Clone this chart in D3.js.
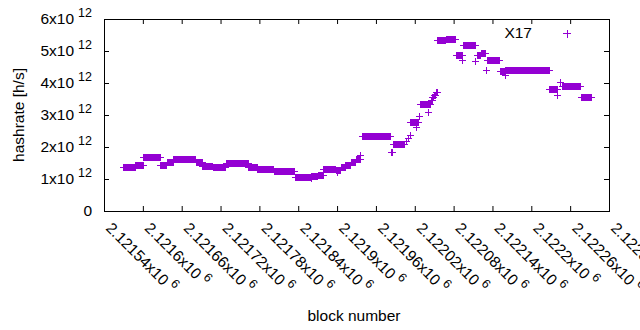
<!DOCTYPE html>
<html>
<head>
<meta charset="utf-8">
<script src="https://cdn.jsdelivr.net/npm/d3@7"></script>
<style>
  body { margin: 0; background: #fff; }
  svg { display: block; font-family: "Liberation Sans", Arial, sans-serif; }
</style>
</head>
<body>
<svg id="chart" width="640" height="330"></svg>
<script>
// X17 hashrate per block, read off as runs of blocks with the same value
// (first block, last block, hashrate in 10^12 h/s)
const runStart = [2121569, 2121588, 2121601, 2121627, 2121637, 2121647, 2121682, 2121692, 2121708, 2121728,
                  2121763, 2121777, 2121802, 2121835, 2121859, 2121859, 2121870, 2121879, 2121898, 2121900,
                  2121906, 2121913, 2121921, 2121929, 2121936, 2121938, 2121984, 2121986, 2122003, 2122006,
                  2122010, 2122012, 2122013, 2122022, 2122027, 2122028, 2122041, 2122045, 2122047, 2122050,
                  2122053, 2122055, 2122068, 2122083, 2122093, 2122095, 2122113, 2122116, 2122122, 2122130,
                  2122132, 2122151, 2122159, 2122159, 2122228, 2122240, 2122244, 2122248, 2122276];
const runEnd   = [2121588, 2121600, 2121626, 2121636, 2121646, 2121681, 2121691, 2121707, 2121727, 2121762,
                  2121776, 2121801, 2121833, 2121858, 2121859, 2121869, 2121878, 2121897, 2121905, 2121900,
                  2121912, 2121920, 2121928, 2121935, 2121936, 2121982, 2121985, 2122002, 2122003, 2122006,
                  2122010, 2122012, 2122025, 2122022, 2122027, 2122044, 2122041, 2122046, 2122048, 2122051,
                  2122054, 2122067, 2122082, 2122093, 2122093, 2122113, 2122113, 2122121, 2122128, 2122130,
                  2122150, 2122158, 2122159, 2122227, 2122239, 2122240, 2122244, 2122275, 2122292];
const runRate  = [1.39, 1.44, 1.69, 1.45, 1.52, 1.625, 1.53, 1.42, 1.37, 1.49,
                  1.38, 1.30, 1.24, 1.05, 1.02, 1.08, 1.14, 1.30, 1.28, 1.23,
                  1.375, 1.45, 1.53, 1.61, 1.75, 2.33, 1.84, 2.08, 2.09, 2.19,
                  2.28, 2.375, 2.79, 2.625, 2.97, 3.33, 3.08, 3.47, 3.55, 3.625,
                  3.72, 5.33, 5.375, 4.87, 4.72, 5.20, 4.70, 4.875, 4.94, 4.41,
                  4.73, 4.37, 4.25, 4.40, 3.80, 3.64, 4.03, 3.90, 3.55];

const xTickBlocks = [2121540, 2121600, 2121660, 2121720, 2121780, 2121840, 2121900,
                     2121960, 2122020, 2122080, 2122140, 2122200, 2122260, 2122320];
const xTickLabels = ['2.12154', '2.1216', '2.12166', '2.12172', '2.12178', '2.12184', '2.1219',
                     '2.12196', '2.12202', '2.12208', '2.12214', '2.1222', '2.12226', '2.12232'];
const yTickValues = [0, 1, 2, 3, 4, 5, 6];
const yTickLabels = ['0', '1', '2', '3', '4', '5', '6'];
const seriesName = 'X17';

const color = '#9400d3';
const margin = {top: 19, right: 31, bottom: 119, left: 104};
const width = 640 - margin.left - margin.right;
const height = 330 - margin.top - margin.bottom;

const svg = d3.select('#chart');
const g = svg.append('g')
    .attr('transform', 'translate(' + margin.left + ',' + margin.top + ')');

const x = d3.scaleLinear().domain([xTickBlocks[0], xTickBlocks[xTickBlocks.length - 1]]).range([0, width]);
const y = d3.scaleLinear().domain([0, 6]).range([height, 0]);

// ticks point inward on all four sides, like gnuplot's mirrored tics
function ticks(sel) {
  sel.select('.domain').remove();
  sel.selectAll('.tick line').attr('stroke', '#000');
  sel.selectAll('.tick text').remove();
}
g.append('g').attr('transform', 'translate(0,' + height + ')')
    .call(d3.axisBottom(x).tickValues(xTickBlocks).tickSizeInner(-5).tickSizeOuter(0)).call(ticks);
g.append('g')
    .call(d3.axisTop(x).tickValues(xTickBlocks).tickSizeInner(-5).tickSizeOuter(0)).call(ticks);
g.append('g')
    .call(d3.axisLeft(y).tickValues(yTickValues).tickSizeInner(-5).tickSizeOuter(0)).call(ticks);
g.append('g').attr('transform', 'translate(' + width + ',0)')
    .call(d3.axisRight(y).tickValues(yTickValues).tickSizeInner(-5).tickSizeOuter(0)).call(ticks);

g.append('rect')
    .attr('x', 0.5).attr('y', 0.5)
    .attr('width', width).attr('height', height)
    .attr('fill', 'none').attr('stroke', '#000');

// y tick labels: Nx10^12
const yLab = g.append('g').attr('font-size', 15.5).attr('fill', '#000');
yTickValues.forEach((v, i) => {
  const t = yLab.append('text')
      .attr('x', -12)
      .attr('y', y(v) + 5)
      .attr('text-anchor', 'end');
  if (v === 0) {
    t.text(yTickLabels[i]);
  } else {
    t.append('tspan').text(yTickLabels[i] + 'x10');
    t.append('tspan').attr('dx', 4).attr('dy', -7).attr('font-size', 12.5).text('12');
  }
});

// x tick labels rotated by 45 degrees
const xLab = g.append('g').attr('font-size', 15.5).attr('fill', '#000');
xTickBlocks.forEach((v, i) => {
  const t = xLab.append('text')
      .attr('transform', 'translate(' + (x(v) + 1) + ',' + (height + 18) + ') rotate(45)');
  t.append('tspan').text(xTickLabels[i] + 'x10');
  t.append('tspan').attr('dx', 4).attr('dy', -7).attr('font-size', 12.5).text('6');
});

// axis titles
svg.append('text')
    .attr('transform', 'translate(24,' + (margin.top + height / 2) + ') rotate(-90)')
    .attr('text-anchor', 'middle')
    .attr('font-size', 15.5).attr('fill', '#000')
    .text('hashrate [h/s]');
svg.append('text')
    .attr('x', 354).attr('y', 320.5)
    .attr('text-anchor', 'middle')
    .attr('font-size', 15.5).attr('fill', '#000')
    .text('block number');

// each run is a row of '+' points: vertical arms merge into a block
const arm = 3.5;
const runs = runStart.map((s, i) => ({start: s, end: runEnd[i], rate: runRate[i]}));
const marks = g.append('g').attr('shape-rendering', 'crispEdges');
const run = marks.selectAll('g.run')
    .data(runs)
    .join('g')
    .attr('class', 'run');
run.append('rect')
    .attr('x', (d) => Math.round(x(d.start)))
    .attr('y', (d) => Math.round(y(d.rate)) - 3)
    .attr('width', (d) => Math.round(x(d.end)) - Math.round(x(d.start)) + 1)
    .attr('height', 7)
    .attr('fill', color);
run.append('line')
    .attr('x1', (d) => Math.round(x(d.start)) + 0.5 - arm)
    .attr('x2', (d) => Math.round(x(d.end)) + 0.5 + arm)
    .attr('y1', (d) => Math.round(y(d.rate)) + 0.5)
    .attr('y2', (d) => Math.round(y(d.rate)) + 0.5)
    .attr('stroke', color);

// legend
svg.append('text')
    .attr('x', 532).attr('y', 37.5)
    .attr('text-anchor', 'end')
    .attr('font-size', 15.5).attr('fill', '#000')
    .text(seriesName);
svg.append('path')
    .attr('d', 'M563,33.5H571M567,29.5V37.5')
    .attr('fill', 'none')
    .attr('stroke', color)
    .attr('shape-rendering', 'crispEdges');
</script>
</body>
</html>
